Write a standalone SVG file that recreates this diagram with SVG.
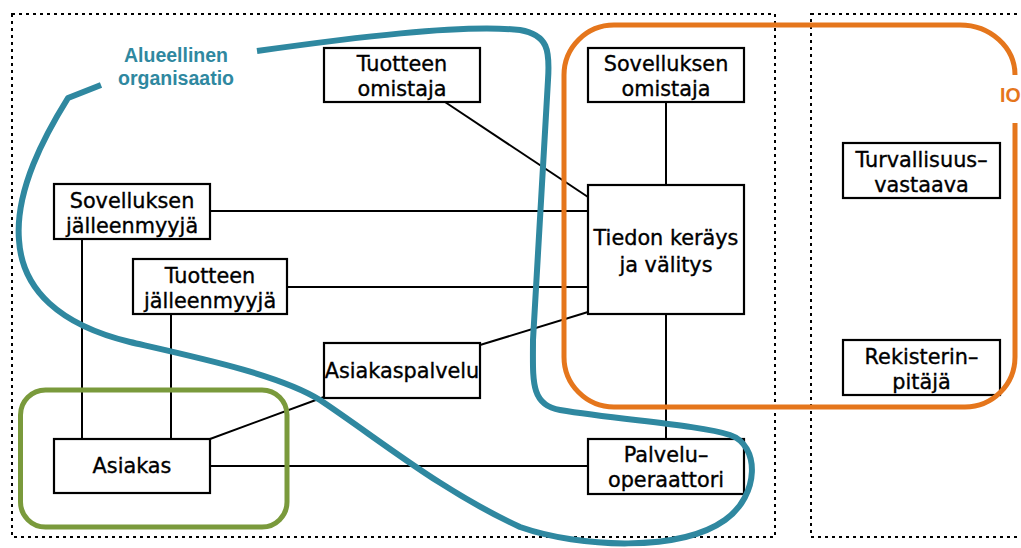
<svg xmlns="http://www.w3.org/2000/svg" width="1021" height="548" viewBox="0 0 1021 548">
<style>
.frame{fill:none;stroke:#000;stroke-width:2;stroke-dasharray:3 4}
.box{fill:#fff;stroke:#000;stroke-width:2.2}
.t{font-family:"DejaVu Sans",sans-serif;font-size:20.8px;fill:#000;stroke:#000;stroke-width:0.35;text-anchor:middle}
.c{stroke:#000;stroke-width:2;fill:none}
.lbl{font-family:"Liberation Sans",Arial,sans-serif;font-weight:bold;font-size:19.5px;text-anchor:middle}
.io{font-family:"Liberation Sans",Arial,sans-serif;font-weight:bold;font-size:19.5px;text-anchor:start}
</style>
<rect width="1021" height="548" fill="#fff"/>
<g id="frames">
<rect class="frame" x="12" y="14" width="763" height="523"/>
<rect class="frame" x="811" y="14" width="300" height="523"/>
</g>
<g id="connectors">
<line class="c" x1="445" y1="102" x2="588" y2="197"/>
<line class="c" x1="666" y1="102" x2="666" y2="185"/>
<line class="c" x1="210" y1="211" x2="588" y2="211"/>
<line class="c" x1="287" y1="287" x2="588" y2="287"/>
<line class="c" x1="480" y1="345" x2="588" y2="312"/>
<line class="c" x1="210" y1="439" x2="324" y2="397"/>
<line class="c" x1="210" y1="466" x2="588" y2="466"/>
<line class="c" x1="666" y1="314" x2="666" y2="439"/>
<line class="c" x1="82" y1="239" x2="82" y2="439"/>
<line class="c" x1="171" y1="314" x2="171" y2="439"/>
</g>
<g id="tuotteen-omistaja">
<rect class="box" x="324" y="48" width="156" height="54"/>
<text class="t" x="402" y="71">Tuotteen</text>
<text class="t" x="402" y="96">omistaja</text>
</g>
<g id="sovelluksen-omistaja">
<rect class="box" x="588" y="48" width="156" height="54"/>
<text class="t" x="666" y="71">Sovelluksen</text>
<text class="t" x="666" y="96">omistaja</text>
</g>
<g id="sovelluksen-jalleenmyyja">
<rect class="box" x="54" y="184" width="156" height="55"/>
<text class="t" x="132" y="208">Sovelluksen</text>
<text class="t" x="132" y="233">jälleenmyyjä</text>
</g>
<g id="tuotteen-jalleenmyyja">
<rect class="box" x="133" y="259" width="154" height="55"/>
<text class="t" x="210" y="283">Tuotteen</text>
<text class="t" x="210" y="308">jälleenmyyjä</text>
</g>
<g id="tiedon-kerays">
<rect class="box" x="588" y="185" width="156" height="129"/>
<text class="t" x="666" y="245">Tiedon keräys</text>
<text class="t" x="666" y="272">ja välitys</text>
</g>
<g id="turvallisuusvastaava">
<rect class="box" x="843" y="143" width="157" height="55"/>
<text class="t" x="921.5" y="167">Turvallisuus–</text>
<text class="t" x="921.5" y="192">vastaava</text>
</g>
<g id="rekisterinpitaja">
<rect class="box" x="843" y="340" width="157" height="55"/>
<text class="t" x="921.5" y="364">Rekisterin–</text>
<text class="t" x="921.5" y="389">pitäjä</text>
</g>
<g id="asiakaspalvelu">
<rect class="box" x="324" y="343" width="156" height="55"/>
<text class="t" x="402" y="378">Asiakaspalvelu</text>
</g>
<g id="asiakas">
<rect class="box" x="54" y="439" width="156" height="54"/>
<text class="t" x="132" y="473">Asiakas</text>
</g>
<g id="palveluoperaattori">
<rect class="box" x="588" y="439" width="156" height="55"/>
<text class="t" x="666" y="462">Palvelu–</text>
<text class="t" x="666" y="487">operaattori</text>
</g>
<g id="regions">
<rect x="20.5" y="390" width="266.5" height="137" rx="25" fill="none" stroke="#7a9a3c" stroke-width="5"/>
<path d="M1015 123 L1015 357 A50 50 0 0 1 965 407 L614 407 A50 50 0 0 1 564 357 L564 75 A50 50 0 0 1 614 25 L960 25 A55 50 0 0 1 1015 75" fill="none" stroke="#e5761c" stroke-width="5"/>
<text class="io" x="1000" y="102" fill="#e5761c">IO</text>
<path d="M101 85 L68 98 C45 135 15 190 19 240 C22 290 60 325 130 342 C200 358 280 375 320 400 C380 440 440 490 520 527 C580 548 680 552 725 520 C760 495 760 445 730 435 C700 425 620 420 560 410 C530 405 533 380 533 340 L548 80 C550 50 548 35 520 30 C460 24 350 38 257 51" fill="none" stroke="#2f88a0" stroke-width="6" stroke-linejoin="round"/>
<text class="lbl" x="176" y="62" fill="#2f88a0">Alueellinen</text>
<text class="lbl" x="176" y="85" fill="#2f88a0">organisaatio</text>
</g>
</svg>
